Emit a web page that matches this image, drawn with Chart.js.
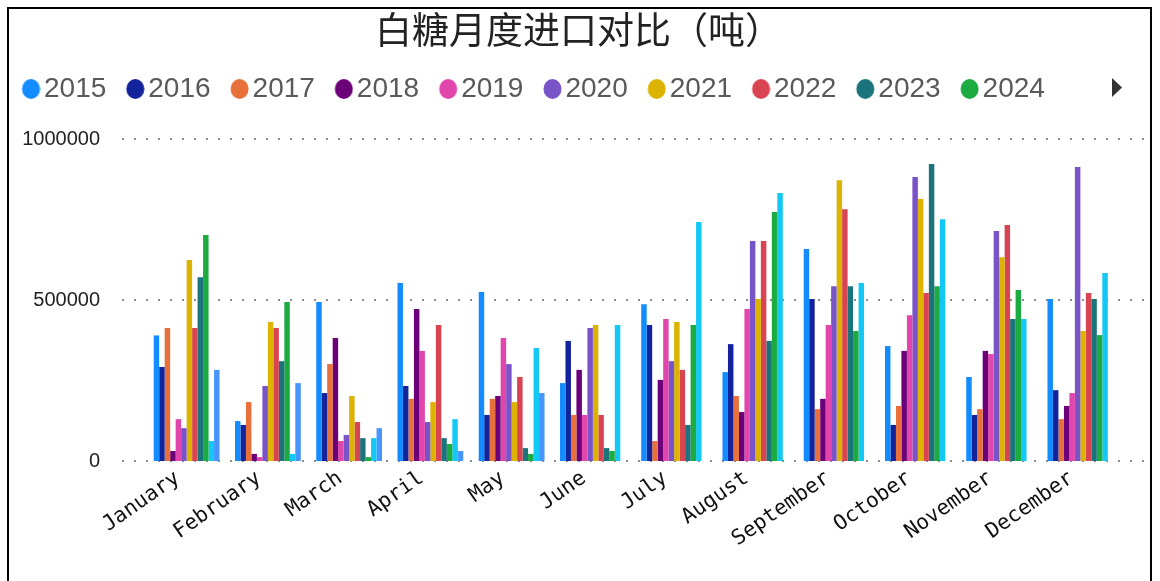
<!DOCTYPE html>
<html>
<head>
<meta charset="utf-8">
<script src="https://cdn.jsdelivr.net/npm/chart.js@4.4.1/dist/chart.umd.min.js"></script>
<style>
  html, body { margin: 0; padding: 0; background: #fff; overflow: hidden; }
  #frame { position: absolute; left: 7px; top: 7px; width: 1145px; height: 600px; border: 2px solid #000; box-sizing: border-box; pointer-events: none; }
  #grafico { position: absolute; left: 0; top: 0; }
</style>
</head>
<body>
<canvas id="grafico" width="1160" height="581"></canvas>
<div id="frame"></div>
<script>
// Dados: importação mensal de açúcar branco (toneladas)
const meses = ['January', 'February', 'March', 'April', 'May', 'June', 'July', 'August', 'September', 'October', 'November', 'December'];
const anos = ['2015', '2016', '2017', '2018', '2019', '2020', '2021', '2022', '2023', '2024', '2025', '2026'];
const yTicks = [0, 500000, 1000000];

const imp2015 = [390000, 124000, 494000, 553000, 525000, 242000, 487000, 276000, 658000, 357000, 261000, 503000];
const imp2016 = [292000, 112000, 211000, 233000, 143000, 373000, 422000, 363000, 503000, 112000, 143000, 220000];
const imp2017 = [413000, 183000, 301000, 193000, 193000, 143000, 62000, 202000, 161000, 171000, 161000, 130000];
const imp2018 = [31000, 22000, 382000, 472000, 202000, 283000, 252000, 152000, 193000, 342000, 342000, 171000];
const imp2019 = [130000, 12000, 62000, 342000, 382000, 143000, 441000, 472000, 422000, 453000, 332000, 211000];
const imp2020 = [102000, 233000, 81000, 121000, 301000, 413000, 310000, 683000, 543000, 882000, 714000, 913000];
const imp2021 = [624000, 432000, 202000, 183000, 183000, 422000, 432000, 503000, 872000, 814000, 633000, 404000];
const imp2022 = [413000, 413000, 121000, 422000, 261000, 143000, 283000, 683000, 782000, 522000, 733000, 522000];
const imp2023 = [571000, 310000, 71000, 71000, 40000, 40000, 112000, 373000, 543000, 922000, 441000, 503000];
const imp2024 = [702000, 494000, 12000, 53000, 22000, 31000, 422000, 773000, 404000, 543000, 531000, 391000];
const imp2025 = [62000, 22000, 71000, 130000, 351000, 422000, 742000, 832000, 553000, 751000, 441000, 584000];
const imp2026 = [283000, 242000, 102000, 31000, 211000, null, null, null, null, null, null, null];

const series = [imp2015, imp2016, imp2017, imp2018, imp2019, imp2020, imp2021, imp2022, imp2023, imp2024, imp2025, imp2026];
const cores = ['#138cff', '#13239b', '#e8703a', '#6b0079', '#e046ab', '#7953c8', '#dbb300', '#d94452', '#1b747c', '#1cab40', '#14c8f5', '#4795ff'];

// Marcador da legenda: elipse deslocada para perto do texto
function marcador(cor) {
    const c = document.createElement('canvas');
    c.width = 38;
    c.height = 20;
    const g = c.getContext('2d');
    g.fillStyle = cor;
    g.beginPath();
    g.ellipse(28.5, 10, 9, 10, 0, 0, Math.PI * 2);
    g.fill();
    return c;
}

// Linhas pontilhadas da grade (mais largas que a área das barras)
const gradePontilhada = {
    id: 'gradePontilhada',
    beforeDatasetsDraw(chart) {
        const ctx = chart.ctx;
        const y = chart.scales.y;
        ctx.save();
        ctx.strokeStyle = '#8c8c8c';
        ctx.lineWidth = 2;
        ctx.setLineDash([2, 10]);
        yTicks.forEach(v => {
            const py = Math.round(y.getPixelForValue(v));
            ctx.beginPath();
            ctx.moveTo(122, py);
            ctx.lineTo(1146, py);
            ctx.stroke();
        });
        ctx.restore();
    }
};

// Seta de rolagem da legenda
const setaLegenda = {
    id: 'setaLegenda',
    afterDraw(chart) {
        const ctx = chart.ctx;
        ctx.save();
        ctx.fillStyle = '#333';
        ctx.beginPath();
        ctx.moveTo(1112, 78);
        ctx.lineTo(1122, 87.5);
        ctx.lineTo(1112, 97);
        ctx.closePath();
        ctx.fill();
        ctx.restore();
    }
};

// Espaço extra abaixo da legenda e título centrado na página
const ajusteLayout = {
    id: 'ajusteLayout',
    afterInit(chart) {
        const fitOriginal = chart.legend.fit;
        chart.legend.fit = function() {
            fitOriginal.bind(chart.legend)();
            this.height += 26;
        };
        const titulo = chart.titleBlock;
        const drawOriginal = titulo.draw;
        titulo.draw = function() {
            const c = this.ctx;
            c.save();
            c.translate(17, 0);
            drawOriginal.apply(this, arguments);
            c.restore();
        };
    }
};

const ctx = document.getElementById('grafico').getContext('2d');
const grafico = new Chart(ctx, {
    type: 'bar',
    data: {
        labels: meses,
        datasets: anos.map((ano, i) => ({
            label: ano,
            data: series[i],
            backgroundColor: cores[i],
            pointStyle: marcador(cores[i]),
            borderWidth: 0,
            barPercentage: 1,
            categoryPercentage: 0.81
        }))
    },
    options: {
        responsive: false,
        devicePixelRatio: 1,
        animation: false,
        layout: {
            padding: { left: 2, right: 39, top: 0, bottom: 0 }
        },
        scales: {
            x: {
                grid: { display: false, drawTicks: false },
                border: { display: false },
                ticks: {
                    autoSkip: false,
                    minRotation: 35,
                    maxRotation: 35,
                    padding: 5,
                    labelOffset: -9,
                    color: '#111',
                    font: { family: '"DejaVu Sans Mono", monospace', size: 21 }
                },
                afterFit(scale) { scale.height = 120; }
            },
            y: {
                min: 0,
                max: 1000000,
                grid: { display: false, drawTicks: false },
                border: { display: false },
                ticks: {
                    stepSize: 500000,
                    padding: 46,
                    color: '#222',
                    font: { family: '"Liberation Sans", Arial, sans-serif', size: 20 },
                    callback: function(value) { return String(value); }
                },
                afterFit(scale) { scale.width = 144; }
            }
        },
        plugins: {
            title: {
                display: true,
                text: '白糖月度进口对比（吨）',
                color: '#222',
                font: { family: '"Noto Sans CJK SC", sans-serif', size: 37, weight: 'normal' },
                padding: { top: 8, bottom: 11.6 }
            },
            legend: {
                display: true,
                align: 'start',
                labels: {
                    usePointStyle: true,
                    boxHeight: 12,
                    pointStyleWidth: 17,
                    padding: 11,
                    color: '#595959',
                    font: { family: '"Liberation Sans", Arial, sans-serif', size: 28 },
                    filter: function(item) { return item.datasetIndex < 10; }
                }
            },
            tooltip: { enabled: false }
        }
    },
    plugins: [gradePontilhada, setaLegenda, ajusteLayout]
});
</script>
</body>
</html>
